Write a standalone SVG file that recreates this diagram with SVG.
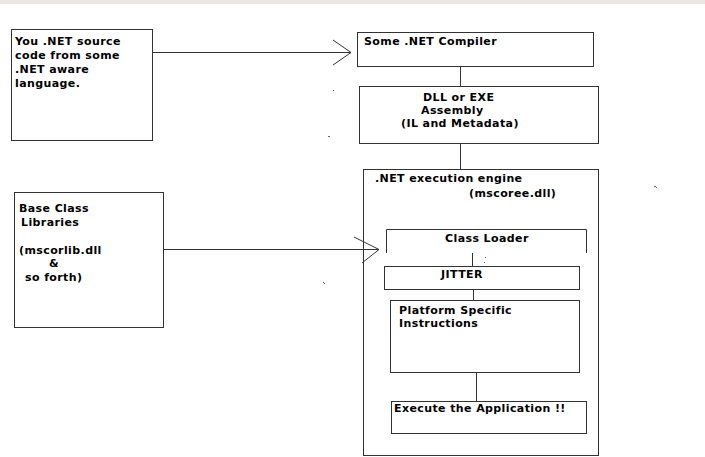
<svg xmlns="http://www.w3.org/2000/svg" width="705" height="457" viewBox="0 0 705 457">
<style>
.b{fill:#fff;stroke:#333;stroke-width:1}
.c{fill:none;stroke:#333;stroke-width:1}
.t{font-family:"DejaVu Sans",Verdana,sans-serif;font-weight:bold;font-size:11px;letter-spacing:0.4px;fill:#000}
.d{fill:#666}
</style>
<rect x="0" y="0" width="705" height="457" fill="#fff"/>
<rect x="0" y="0" width="705" height="4" fill="#ebe7e3"/>
<g id="source">
<rect class="b" x="11.5" y="29.5" width="141" height="111"/>
<text class="t" x="15" y="45">You .NET source</text>
<text class="t" x="15" y="59">code from some</text>
<text class="t" x="15" y="73">.NET aware</text>
<text class="t" x="15" y="87">language.</text>
</g>
<g id="compiler">
<rect class="b" x="357.5" y="32.5" width="236" height="34"/>
<text class="t" x="364" y="45">Some .NET Compiler</text>
</g>
<g id="assembly">
<rect class="b" x="359.5" y="86.5" width="239" height="57"/>
<text class="t" x="423" y="101">DLL or EXE</text>
<text class="t" x="421" y="114">Assembly</text>
<text class="t" x="401" y="127">(IL and Metadata)</text>
</g>
<g id="bcl">
<rect class="b" x="14.5" y="192.5" width="149" height="135"/>
<text class="t" x="19" y="212">Base Class</text>
<text class="t" x="21" y="226">Libraries</text>
<text class="t" x="19" y="254">(mscorlib.dll</text>
<text class="t" x="49" y="267">&amp;</text>
<text class="t" x="25" y="281">so forth)</text>
</g>
<g id="engine">
<rect class="b" x="363.5" y="169.5" width="235" height="286"/>
<text class="t" x="375" y="182">.NET execution engine</text>
<text class="t" x="469" y="197">(mscoree.dll)</text>
</g>
<g id="classloader">
<path class="c" d="M386.5,253 V229.5 H586.5 V253"/>
<text class="t" x="445" y="242">Class Loader</text>
</g>
<g id="jitter">
<rect class="b" x="384.5" y="266.5" width="195" height="23"/>
<text class="t" x="441" y="278">JITTER</text>
</g>
<g id="platform">
<rect class="b" x="390.5" y="300.5" width="189" height="72"/>
<text class="t" x="399" y="314">Platform Specific</text>
<text class="t" x="399" y="327">Instructions</text>
</g>
<g id="execute">
<rect class="b" x="391.5" y="401.5" width="195" height="32"/>
<text class="t" x="394" y="412">Execute the Application !!</text>
</g>
<g id="connectors">
<line class="c" x1="152" y1="52.5" x2="351" y2="52.5"/>
<polyline class="c" points="333,40 351,52.5 333,65"/>
<line class="c" x1="163" y1="249.5" x2="379" y2="249.5"/>
<polyline class="c" points="354,237 379,249.5 362,263"/>
<line class="c" x1="460.5" y1="66" x2="460.5" y2="86"/>
<line class="c" x1="460.5" y1="144" x2="460.5" y2="169"/>
<line class="c" x1="472.5" y1="253" x2="472.5" y2="266"/>
<line class="c" x1="473.5" y1="290" x2="473.5" y2="300"/>
<line class="c" x1="476.5" y1="373" x2="476.5" y2="401"/>
</g>
<rect class="d" x="333" y="90" width="1" height="1"/>
<rect class="d" x="328" y="136" width="2" height="1"/>
<rect class="d" x="323" y="282" width="1" height="1"/>
<rect class="d" x="324" y="283" width="1" height="1"/>
<rect class="d" x="654" y="186" width="2" height="1"/>
<rect class="d" x="656" y="187" width="1" height="1"/>
<rect class="d" x="485" y="257" width="1" height="1"/>
<rect class="d" x="484" y="262" width="1" height="1"/>
</svg>
